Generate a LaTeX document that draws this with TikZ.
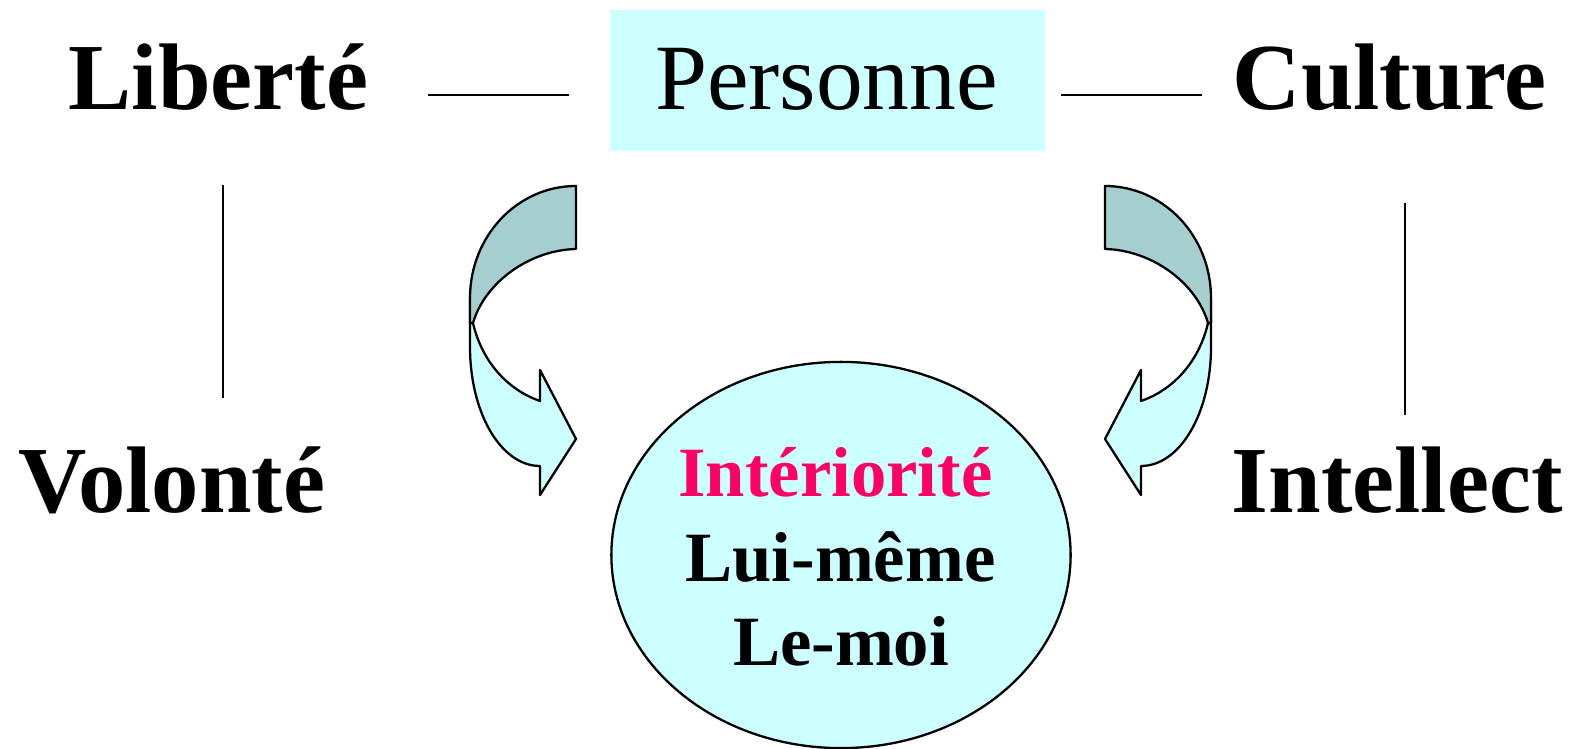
\documentclass[tikz,border=0pt]{standalone}
\usepackage{fontspec}
\setmainfont{Liberation Serif}
\usetikzlibrary{shapes.geometric}
\definecolor{cyanlight}{RGB}{204,255,255}
\definecolor{graycyan}{RGB}{166,206,206}
\definecolor{pinkred}{RGB}{255,0,102}
\newcommand\bigtxt{\fontsize{26.9}{30}\selectfont}
\newcommand\perstxt{\fontsize{26.6}{30}\selectfont}
\newcommand\midtxt{\fontsize{20.1}{24}\selectfont}
\tikzset{
  word/.style={inner sep=0pt, anchor=base west, font=\bigtxt\bfseries},
  inword/.style={inner sep=0pt, anchor=base, font=\midtxt\bfseries},
  rule/.style={line width=0.65pt},
  outl/.style={draw=black, line width=0.65pt, line join=round},
  curvarrow/.pic={
    \path[outl, fill=cyanlight]
      (470,298) -- (470,347) .. controls (470,413) and (501,466) .. (540,466)
      -- (540,495) -- (576,439) -- (540,370) -- (540,401)
      .. controls (508,390) and (482,362) .. (473,323) -- (470,323);
    \path[outl, fill=graycyan]
      (576,186) .. controls (517.5,186) and (470,236) .. (470,298) -- (470,323)
      -- (473,323) .. controls (485,282) and (530,250) .. (576,249) -- cycle;
  }
}
\begin{document}
\begin{tikzpicture}[x=0.01cm, y=-0.01cm]
\useasboundingbox (0,0) rectangle (1569,749);
% top row
\node[word] (lib) at (68,110) {Libert\'e};
\node[fill=cyanlight, inner sep=0pt, minimum width=4.34cm, minimum height=1.41cm] (pbox) at (827.5,80.5) {};
\node[inner sep=0pt, anchor=base, font=\perstxt] (pers) at (826.5,110) {Personne};
\node[word] (cul) at (1232,110) {Culture};
% bottom row
\node[word] (vol) at (18,513) {Volont\'e};
\node[word] (int) at (1231,513) {Intellect};
% connectors
\coordinate (h1a) at (428,95); \coordinate (h1b) at (569,95);
\coordinate (h2a) at (1061,95); \coordinate (h2b) at (1202,95);
\coordinate (v1a) at (223,185); \coordinate (v1b) at (223,398);
\coordinate (v2a) at (1405,203); \coordinate (v2b) at (1405,415);
\draw[rule] (h1a) -- (h1b);
\draw[rule] (h2a) -- (h2b);
\draw[rule] (v1a) -- (v1b);
\draw[rule] (v2a) -- (v2b);
% curved arrows
\pic at (0,0) {curvarrow};
\pic[xscale=-1] at (1681,0) {curvarrow};
% ellipse
\node[ellipse, draw=black, line width=0.65pt, fill=cyanlight, inner sep=0pt,
      minimum width=4.59cm, minimum height=3.86cm] (ell) at (841,555) {};
\node[inword, text=pinkred] (t1) at (835.5,497) {Int\'eriorit\'e};
\node[inword] (t2) at (840.5,582) {Lui-m\^eme};
\node[inword] (t3) at (841,666) {Le-moi};
\end{tikzpicture}
\end{document}
